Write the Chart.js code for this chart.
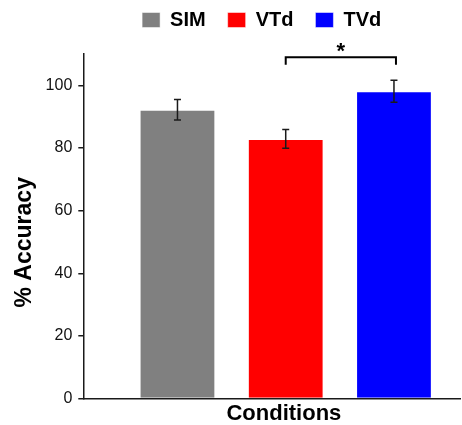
<!DOCTYPE html>
<html>
<head>
<meta charset="utf-8">
<script src="https://cdn.jsdelivr.net/npm/chart.js@4"></script>
<style>
  html, body { margin: 0; padding: 0; background: #fff; }
  #wrap { width: 462px; height: 425px; }
</style>
</head>
<body>
<div id="wrap"><canvas id="accChart" width="462" height="425"></canvas></div>
<script>
// chart data
const conditions = ['SIM', 'VTd', 'TVd'];
const accuracy = [92.2, 82.9, 98.1];
const errors = [3.3, 3.0, 3.5];
const barColors = ['#808080', '#ff0000', '#0000ff'];
const yTicks = [0, 20, 40, 60, 80, 100];
// significance bracket: between VTd and TVd
const sigPair = [1, 2];
const sigLevel = [109, 106.6];
const sigLabel = '*';

Chart.defaults.font.family = '"Liberation Sans", Arial, sans-serif';
Chart.defaults.color = '#111';

const ink = '#1a1a1a';

// extra room under the legend, and nudge it a bit left
const legendGap = {
    id: 'legendGap',
    beforeInit(chart) {
        const fit = chart.legend.fit;
        chart.legend.fit = function () {
            fit.bind(chart.legend)();
            this.height += 14;
        };
    },
    afterLayout(chart) {
        chart.legend.left -= 10;
        chart.legend.right -= 10;
    }
};

// error bars + significance bracket
const annotations = {
    id: 'annotations',
    afterDatasetsDraw(chart) {
        const { ctx, scales: { x, y } } = chart;
        ctx.save();
        ctx.strokeStyle = ink;
        ctx.lineWidth = 1.5;
        accuracy.forEach((v, i) => {
            const px = x.getPixelForValue(i + 1);
            const top = y.getPixelForValue(v + errors[i]);
            const bot = y.getPixelForValue(v - errors[i]);
            ctx.beginPath();
            ctx.moveTo(px, top); ctx.lineTo(px, bot);
            ctx.moveTo(px - 3.5, top); ctx.lineTo(px + 3.5, top);
            ctx.moveTo(px - 3.5, bot); ctx.lineTo(px + 3.5, bot);
            ctx.stroke();
        });

        const x1 = x.getPixelForValue(sigPair[0] + 1);
        const x2 = x.getPixelForValue(sigPair[1] + 1) + 2;
        const yh = y.getPixelForValue(sigLevel[0]);
        const yl = y.getPixelForValue(sigLevel[1]);
        ctx.lineWidth = 2;
        ctx.strokeStyle = '#000';
        ctx.beginPath();
        ctx.moveTo(x1, yl); ctx.lineTo(x1, yh); ctx.lineTo(x2, yh); ctx.lineTo(x2, yl);
        ctx.stroke();
        ctx.fillStyle = '#000';
        ctx.font = 'bold 22px "Liberation Sans", Arial, sans-serif';
        ctx.textAlign = 'center';
        ctx.textBaseline = 'alphabetic';
        ctx.fillText(sigLabel, (x1 + x2) / 2, yh + 1);
        ctx.restore();
    }
};

new Chart(document.getElementById('accChart'), {
    type: 'bar',
    data: {
        datasets: conditions.map((name, i) => ({
            label: name,
            data: [{ x: i + 1, y: accuracy[i] }],
            backgroundColor: barColors[i],
            borderColor: 'rgba(255,255,255,0.5)',
            borderWidth: 1,
            barPercentage: 0.7,
            categoryPercentage: 1,
            grouped: false,
            stack: 'all'
        }))
    },
    options: {
        responsive: false,
        animation: false,
        layout: { padding: { top: -12, right: 2, left: 8, bottom: 0 } },
        plugins: {
            legend: {
                position: 'top',
                fullSize: false,
                labels: {
                    boxWidth: 18,
                    boxHeight: 15,
                    padding: 22,
                    color: '#000',
                    font: { size: 20, weight: 'bold' }
                }
            },
            tooltip: { enabled: false }
        },
        scales: {
            x: {
                type: 'linear',
                min: 0.13,
                max: 3.61,
                offset: false,
                stacked: false,
                afterBuildTicks: axis => { axis.ticks = conditions.map((c, i) => ({ value: i + 1 })); },
                grid: { display: false, drawTicks: false, offset: false },
                ticks: { display: false },
                border: { display: true, color: ink, width: 1.5 },
                title: {
                    display: true,
                    text: '    Conditions',
                    color: '#000',
                    font: { size: 22, weight: 'bold' },
                    padding: { top: 2, bottom: -2 }
                }
            },
            y: {
                min: 0,
                max: 110,
                stacked: false,
                afterBuildTicks: axis => { axis.ticks = yTicks.map(v => ({ value: v })); },
                grid: { drawOnChartArea: false, drawTicks: true, tickLength: 5, color: ink, lineWidth: 1.5 },
                border: { display: true, color: ink, width: 1.5 },
                ticks: { color: '#111', padding: 6, font: { size: 16 } },
                title: {
                    display: true,
                    text: '% Accuracy     ',
                    color: '#000',
                    font: { size: 23, weight: 'bold' },
                    padding: { top: 3, bottom: 1 }
                }
            }
        }
    },
    plugins: [legendGap, annotations]
});
</script>
</body>
</html>
